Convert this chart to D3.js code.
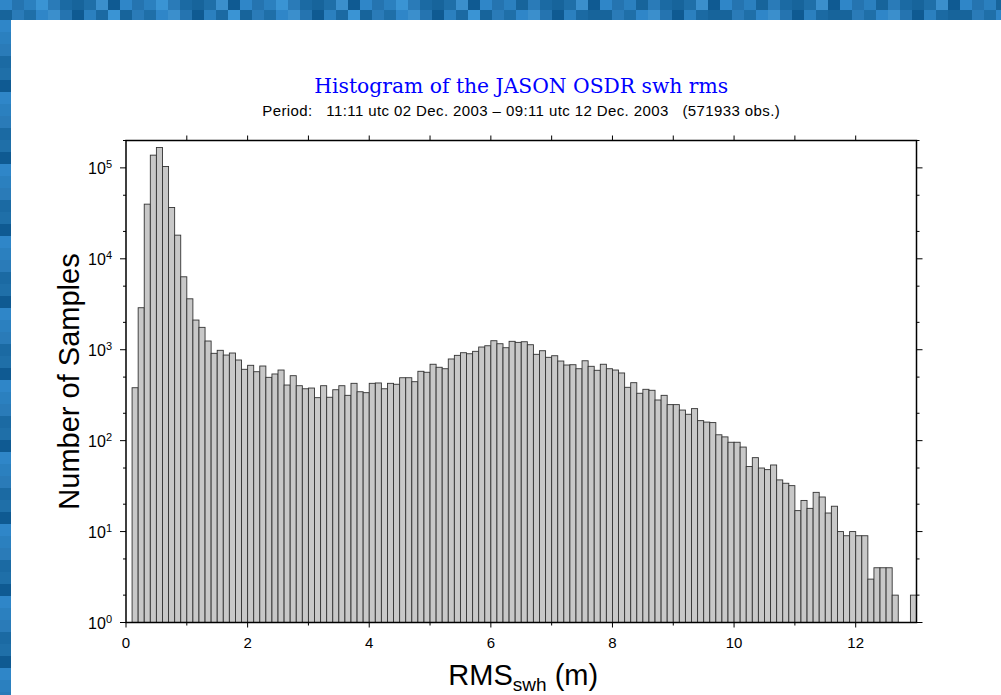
<!DOCTYPE html>
<html>
<head>
<meta charset="utf-8">
<script src="https://cdn.jsdelivr.net/npm/d3@7"></script>
<style>
  html, body { margin: 0; padding: 0; background: #fff; }
  svg { display: block; }
  text { font-family: "Liberation Sans", Arial, sans-serif; }
</style>
</head>
<body>
<div id="chart"></div>
<script>
// histogram of swh rms, bins of 0.1 m from 0 to 13 m
const binWidth = 0.1;
const counts = [
    0, 382, 2896, 39900, 138000, 167500, 103600, 36700, 18200, 6340,
    3630, 2120, 1762, 1247, 913, 985, 874, 920, 771, 609,
    674, 573, 662, 497, 541, 598, 409, 518, 402, 372,
    379, 297, 402, 300, 363, 402, 315, 427, 345, 337,
    427, 431, 372, 427, 417, 492, 492, 445, 579, 565,
    692, 641, 618, 791, 867, 927, 903, 960, 1071, 1106,
    1256, 1164, 1052, 1237, 1205, 1224, 1135, 890, 975, 825,
    859, 751, 679, 684, 618, 756, 657, 594, 692, 618,
    598, 555, 386, 434, 332, 367, 358, 280, 315, 249,
    249, 217, 195, 225, 166, 160, 158, 116, 110, 96,
    96, 85, 52, 65, 50, 48, 54, 37, 34, 32,
    17, 22, 18, 27, 24, 16, 19, 10, 9, 10,
    9, 9, 3, 4, 4, 4, 2, 0, 0, 2
];
const xDomain = [0, 13];
const yDomain = [1, 2e5];
const xMajorTicks = [0, 2, 4, 6, 8, 10, 12];
const xMinorTicks = [1, 3, 5, 7, 9, 11];
const xTopTicks = [1, 2, 3, 4, 5, 6, 7, 8, 9, 10, 11, 12];
const yExponents = [0, 1, 2, 3, 4, 5];
const yMinorMult = [2, 5];

const titleText = "Histogram of the JASON OSDR swh rms";
const subtitleText = "Period:   11:11 utc 02 Dec. 2003 \u2013 09:11 utc 12 Dec. 2003   (571933 obs.)";

const W = 1001, H = 695;
const svg = d3.select("#chart").append("svg")
    .attr("width", W)
    .attr("height", H);

svg.append("rect").attr("width", W).attr("height", H).attr("fill", "#fff");

// blue tiled border (top strip + left strip)
const blues = ["#2f86c8", "#1f6fa8", "#2a7bb8", "#17649b", "#3a94d4", "#1b6aa3", "#2b80bf", "#0f5a92", "#2574b0", "#3b8fcc"];
const tile = 12;
const border = svg.append("g");
for (let c = 0; c * tile < W; c++) {
    for (let r = 0; r < 2; r++) {
        let k = (c * 7 + r * 3 + (c % 5) * (r + 1)) % blues.length;
        if (c > 40 && k === 4) k = 3;
        border.append("rect")
            .attr("x", c * tile).attr("y", r * 10)
            .attr("width", tile).attr("height", 10)
            .attr("fill", blues[k]);
    }
}
for (let r = 0; r * tile < H; r++) {
    const k = (r * 5 + (r % 3)) % blues.length;
    border.append("rect")
        .attr("x", 0).attr("y", 20 + r * tile)
        .attr("width", 11).attr("height", tile)
        .attr("fill", blues[k]);
}

// plot area
const pLeft = 126, pRight = 916.5, pTop = 140.5, pBottom = 622.5;
const x = d3.scaleLinear().domain(xDomain).range([pLeft, pRight]);
const y = d3.scaleLog().domain(yDomain).range([pBottom, pTop]).clamp(true);

const bars = counts.map((v, i) => ({ x0: i * binWidth, x1: (i + 1) * binWidth, v }))
    .filter(d => d.v >= 1);

svg.append("g")
    .selectAll("rect")
    .data(bars)
    .join("rect")
    .attr("x", d => x(d.x0))
    .attr("y", d => y(d.v))
    .attr("width", d => x(d.x1) - x(d.x0))
    .attr("height", d => y(1) - y(d.v))
    .attr("fill", "#c8c8c8")
    .attr("stroke", "#333")
    .attr("stroke-width", 0.9);

// frame
svg.append("rect")
    .attr("x", pLeft).attr("y", pTop)
    .attr("width", pRight - pLeft).attr("height", pBottom - pTop)
    .attr("fill", "none")
    .attr("stroke", "#000")
    .attr("stroke-width", 1.5);

const ticks = svg.append("g").attr("stroke", "#000").attr("stroke-width", 1);

// bottom ticks
xMajorTicks.forEach(t => ticks.append("line")
    .attr("x1", x(t)).attr("x2", x(t)).attr("y1", pBottom).attr("y2", pBottom + 5));
xMinorTicks.forEach(t => ticks.append("line")
    .attr("x1", x(t)).attr("x2", x(t)).attr("y1", pBottom).attr("y2", pBottom + 3));
// top ticks
xTopTicks.forEach(t => ticks.append("line")
    .attr("x1", x(t)).attr("x2", x(t)).attr("y1", pTop).attr("y2", pTop - 5));

// left / right log ticks
yExponents.forEach(e => {
    const v = Math.pow(10, e);
    ticks.append("line").attr("x1", pLeft).attr("x2", pLeft - 6).attr("y1", y(v)).attr("y2", y(v));
    ticks.append("line").attr("x1", pRight).attr("x2", pRight + 6).attr("y1", y(v)).attr("y2", y(v));
    yMinorMult.forEach(m => {
        const mv = m * v;
        if (mv > yDomain[1]) return;
        ticks.append("line").attr("x1", pLeft).attr("x2", pLeft - 3).attr("y1", y(mv)).attr("y2", y(mv));
        ticks.append("line").attr("x1", pRight).attr("x2", pRight + 3).attr("y1", y(mv)).attr("y2", y(mv));
    });
});

// x tick labels
svg.append("g")
    .selectAll("text")
    .data(xMajorTicks)
    .join("text")
    .attr("x", d => x(d))
    .attr("y", pBottom + 25)
    .attr("text-anchor", "middle")
    .style("font-size", "15px")
    .text(d => d);

// y tick labels: 10^n
const yl = svg.append("g")
    .selectAll("text")
    .data(yExponents)
    .join("text")
    .attr("x", pLeft - 14)
    .attr("y", d => y(Math.pow(10, d)) + 6)
    .attr("text-anchor", "end")
    .style("font-size", "16px");
yl.append("tspan").text("10");
yl.append("tspan")
    .attr("dy", -6)
    .style("font-size", "11px")
    .text(d => d);

// axis labels
svg.append("text")
    .attr("transform", `translate(79, ${(pTop + pBottom) / 2}) rotate(-90)`)
    .attr("text-anchor", "middle")
    .style("font-size", "29px")
    .text("Number of Samples");

const xl = svg.append("text")
    .attr("x", (pLeft + pRight) / 2 + 2)
    .attr("y", 685)
    .attr("text-anchor", "middle")
    .style("font-size", "29px");
xl.append("tspan").text("RMS");
xl.append("tspan").attr("dy", 6).style("font-size", "19px").text("swh");
xl.append("tspan").attr("dy", -6).text(" (m)");

// titles
svg.append("text")
    .attr("x", (pLeft + pRight) / 2)
    .attr("y", 93)
    .attr("text-anchor", "middle")
    .style("font-family", "'DejaVu Serif', 'Liberation Serif', serif")
    .style("font-size", "20.3px")
    .attr("fill", "#0000ff")
    .text(titleText);

svg.append("text")
    .attr("x", (pLeft + pRight) / 2)
    .attr("y", 116)
    .attr("text-anchor", "middle")
    .style("font-size", "15px")
    .style("letter-spacing", "0.4px")
    .style("white-space", "pre")
    .text(subtitleText);
</script>
</body>
</html>
